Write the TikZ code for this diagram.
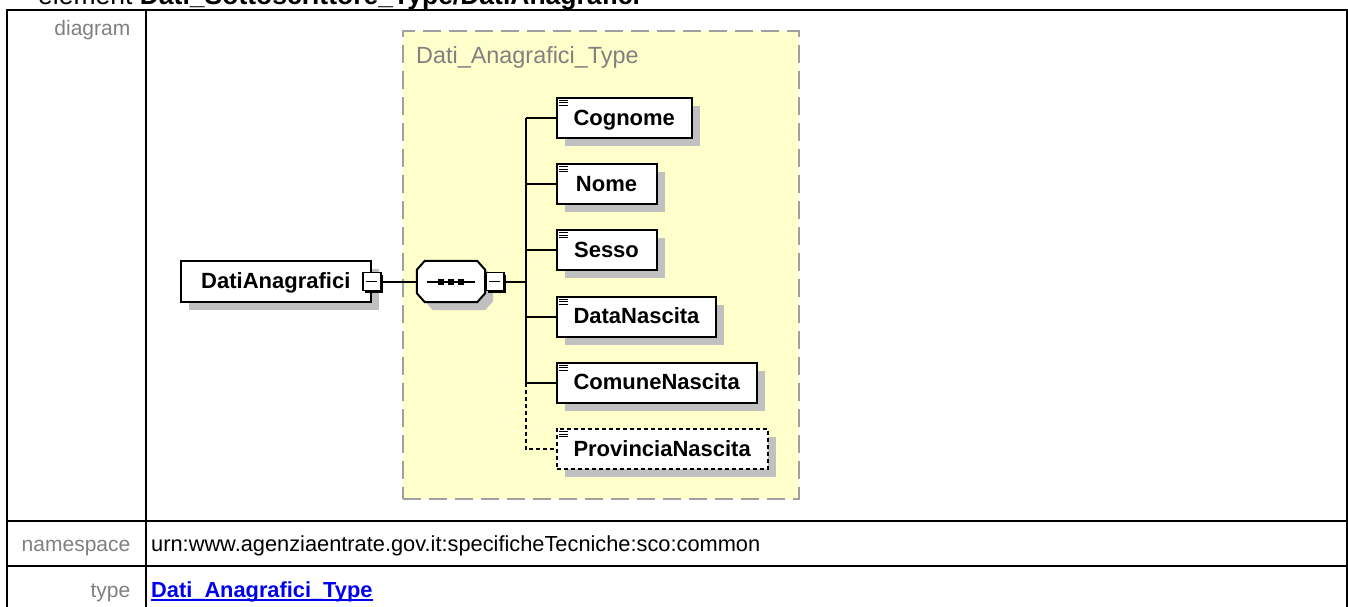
\documentclass[tikz,border=0pt]{standalone}
\usepackage{fontspec}
\setmainfont{Liberation Sans}
\usepackage{tikz}
\usetikzlibrary{positioning,shadows}
\definecolor{typeyellow}{HTML}{FFFFCC}
\definecolor{typeborder}{HTML}{A0A0A0}
\definecolor{shadowgray}{HTML}{C0C0C0}
\definecolor{labelgray}{HTML}{808080}
\definecolor{linkblue}{HTML}{0000EE}

\begin{document}
\begin{tikzpicture}[
    x=1pt, y=-1pt,
    elem/.style={rectangle, draw, fill=white, line width=2pt,
                 minimum width=100pt, minimum height=40pt,
                 inner xsep=17pt, text height=16pt, text depth=2pt,
                 font=\fontsize{22}{26}\selectfont\bfseries,
                 general shadow={fill=shadowgray, shadow xshift=8pt, shadow yshift=-8pt}},
    optelem/.style={elem, dash pattern=on 4pt off 3pt},
    minusbox/.style={rectangle, draw, fill=white, line width=1.4pt,
                     minimum size=18pt, inner sep=0pt,
                     general shadow={fill=black, shadow xshift=2.5pt, shadow yshift=-2.5pt},
                     path picture={\draw[line width=1.4pt]
                        ([xshift=3.5pt]path picture bounding box.west) --
                        ([xshift=-3.5pt]path picture bounding box.east);}},
    seqbox/.style={line width=2pt, fill=white,
                   general shadow={fill=shadowgray, shadow xshift=8pt, shadow yshift=-8pt}},
    conn/.style={line width=2pt},
    lbl/.style={inner sep=0pt, anchor=base east, text=labelgray,
                font=\fontsize{21}{25}\selectfont},
    val/.style={inner sep=0pt, anchor=base west,
                font=\fontsize{21.8}{26}\selectfont},
    tableline/.style={line width=2pt}
]
\useasboundingbox (0,0) rectangle (1348,607);

% table frame
\draw[tableline] (7,660) -- (7,10) -- (1347,10) -- (1347,660);
\draw[tableline] (146,10) -- (146,660);
\draw[tableline] (7,521) -- (1347,521);
\draw[tableline] (7,566) -- (1347,566);

\node (title) [inner sep=0pt, anchor=base west, font=\fontsize{26.5}{30}\selectfont]
    at (38,5) {element \textbf{Dati\_Sottoscrittore\_Type/DatiAnagrafici}};

\node (diaglbl) [lbl] at (130.5,36) {diagram};
\node (nslbl) [lbl] at (130.5,551.7) {namespace};
\node (typelbl) [lbl] at (130.5,597) {type};

\node (nsval) [val] at (151,551.7) {urn:www.agenziaentrate.gov.it:specificheTecniche:sco:common};
\node (typeval) [val, text=linkblue, font=\fontsize{21.8}{26}\selectfont\bfseries]
    at (151,597) {Dati\_Anagrafici\_Type};
\draw[linkblue, line width=1.6pt] ([yshift=-3pt]typeval.base west) -- ([yshift=-3pt]typeval.base east);

% complex type
\node (typebox) [rectangle, draw=typeborder, fill=typeyellow, line width=2pt,
                 dash pattern=on 18pt off 8pt,
                 minimum width=396pt, minimum height=468pt] at (601,265) {};
\node (typename) [inner sep=0pt, anchor=base west, text=labelgray,
                  font=\fontsize{23.4}{28}\selectfont]
    at ([shift={(14pt,-34pt)}]typebox.north west) {Dati\_Anagrafici\_Type};

% root element
\node (dati) [elem, minimum width=190pt, minimum height=41pt] at (275.8,281.5) {DatiAnagrafici};
\node (datiminus) [minusbox] at (dati.east) {};

% sequence
\node (seq) [minimum width=68pt, minimum height=41pt, inner sep=0pt] at (451,281.5) {};
\draw[seqbox] ([xshift=8pt]seq.north west) -- ([xshift=-8pt]seq.north east)
    -- ([yshift=-9pt]seq.north east) -- ([yshift=9pt]seq.south east)
    -- ([xshift=-8pt]seq.south east) -- ([xshift=8pt]seq.south west)
    -- ([yshift=9pt]seq.south west) -- ([yshift=-9pt]seq.north west) -- cycle;
\draw[conn] ([xshift=-24pt]seq.center) -- ([xshift=24pt]seq.center);
\foreach \dx in {-10,0,10}
    \fill ([xshift=\dx pt]seq.center) +(-3pt,-3pt) rectangle +(3pt,3pt);
\node (seqminus) [minusbox, anchor=west] at (seq.east) {};

% children
\node (cognome) [elem, anchor=north west] at (555.5,97) {Cognome};
\node (nome) [elem, below=24.2pt of cognome.south west, anchor=north west] {Nome};
\node (sesso) [elem, below=24.2pt of nome.south west, anchor=north west] {Sesso};
\node (datanascita) [elem, below=24.2pt of sesso.south west, anchor=north west] {DataNascita};
\node (comunenascita) [elem, below=24.2pt of datanascita.south west, anchor=north west] {ComuneNascita};
\node (provincianascita) [optelem, below=24.2pt of comunenascita.south west, anchor=north west] {ProvinciaNascita};

\foreach \n in {cognome,nome,sesso,datanascita,comunenascita,provincianascita}
    \foreach \dy in {3.5,6,8.5}
        \draw[line width=1pt] ([shift={(3.5pt,-\dy pt)}]\n.north west) -- ++(9pt,0);

% connectors
\coordinate (fork) at ([xshift=-30pt]cognome.west);
\draw[conn] (datiminus) -- (seq);
\draw[conn] (seqminus) -- (seqminus -| fork);
\draw[conn] (fork |- cognome.west) -- (fork |- comunenascita.west);
\foreach \n in {cognome,nome,sesso,datanascita,comunenascita}
    \draw[conn] (fork |- \n.west) -- (\n);
\draw[conn, dash pattern=on 4pt off 3pt] (fork |- comunenascita.west) |- (provincianascita);
\end{tikzpicture}
\end{document}
